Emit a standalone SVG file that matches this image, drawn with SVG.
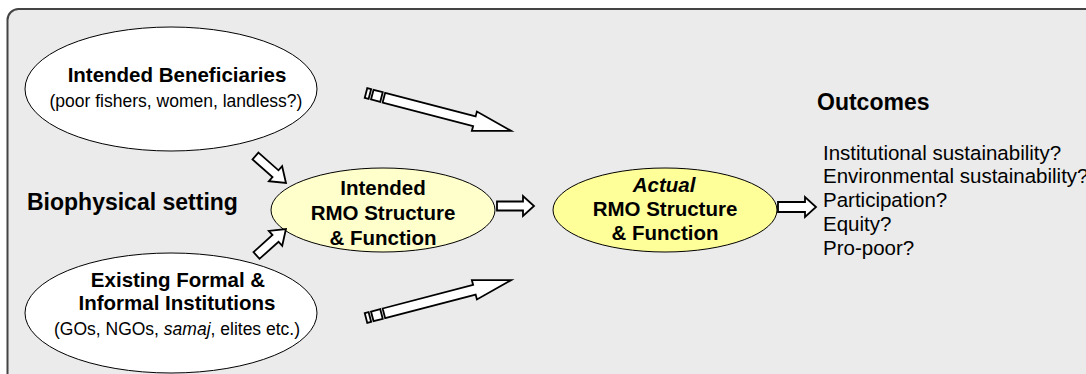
<svg xmlns="http://www.w3.org/2000/svg" width="1086" height="374" viewBox="0 0 1086 374">
<defs>
<style>
.frame{fill:#ebebeb;stroke:#444;stroke-width:2}
.el{stroke:#000;stroke-width:1}
.arr{fill:#fff;stroke:#000;stroke-width:1.8;stroke-linejoin:miter}
text{font-family:"Liberation Sans",Arial,sans-serif;fill:#000}
.b{font-weight:bold;font-size:20.5px}
.h{font-weight:bold;font-size:23px}
.s{font-size:17.5px}
.o{font-size:20.5px}
</style>
</defs>
<rect class="frame" x="7.5" y="9" width="1100" height="400" rx="11"/>
<text class="h" x="27" y="210">Biophysical setting</text>
<text class="h" x="817" y="110">Outcomes</text>
<g id="outcomes">
<text class="o" x="823" y="160">Institutional sustainability?</text>
<text class="o" x="823" y="183">Environmental sustainability?</text>
<text class="o" x="823" y="207">Participation?</text>
<text class="o" x="823" y="231">Equity?</text>
<text class="o" x="823" y="255">Pro-poor?</text>
</g>
<g id="beneficiaries">
<ellipse class="el" cx="171" cy="89" rx="146" ry="62" fill="#fff"/>
<text class="b" x="177" y="82" text-anchor="middle">Intended Beneficiaries</text>
<text class="s" x="176" y="107" text-anchor="middle">(poor fishers, women, landless?)</text>
</g>
<g id="institutions">
<ellipse class="el" cx="171" cy="313" rx="146" ry="60" fill="#fff"/>
<text class="b" x="178" y="287" text-anchor="middle">Existing Formal &amp;</text>
<text class="b" x="177" y="310" text-anchor="middle">Informal Institutions</text>
<text class="s" x="177" y="335" text-anchor="middle">(GOs, NGOs, <tspan font-style="italic">samaj</tspan>, elites etc.)</text>
</g>
<g id="intended">
<ellipse class="el" cx="383" cy="210" rx="112" ry="42" fill="#ffffcc"/>
<text class="b" x="383" y="195" text-anchor="middle">Intended</text>
<text class="b" x="383" y="220" text-anchor="middle">RMO Structure</text>
<text class="b" x="383" y="245" text-anchor="middle">&amp; Function</text>
</g>
<g id="actual">
<ellipse class="el" cx="665" cy="210" rx="112" ry="42" fill="#ffff99"/>
<text class="b" x="664" y="192" text-anchor="middle" font-style="italic">Actual</text>
<text class="b" x="665" y="216" text-anchor="middle">RMO Structure</text>
<text class="b" x="665" y="240" text-anchor="middle">&amp; Function</text>
</g>
<g id="connectors">
<path class="arr" d="M497,201.5 L523,201.5 L523,196 L534,206 L523,216 L523,210.5 L497,210.5 Z"/>
<path class="arr" d="M778,202 L805,202 L805,197 L816,207 L805,217 L805,212 L778,212 Z"/>
<path class="arr" transform="translate(255.5,156) rotate(41.5)" d="M0,-4.5 L26.7,-4.5 L26.7,-10 L40.7,0 L26.7,10 L26.7,4.5 L0,4.5 Z"/>
<path class="arr" transform="translate(256.5,255.5) rotate(-42)" d="M0,-4.5 L25.6,-4.5 L25.6,-10 L39.6,0 L25.6,10 L25.6,4.5 L0,4.5 Z"/>
<g transform="translate(366,93) rotate(14.6)">
<rect class="arr" x="0" y="-5" width="4" height="10"/>
<rect class="arr" x="6.5" y="-5" width="9.5" height="10"/>
<path class="arr" d="M18.5,-5 L112,-5 L112,-10 L150,0 L112,10 L112,5 L18.5,5 Z"/>
</g>
<g transform="translate(366,318) rotate(-14.6)">
<rect class="arr" x="0" y="-5" width="4" height="10"/>
<rect class="arr" x="6.5" y="-5" width="9.5" height="10"/>
<path class="arr" d="M18.5,-5 L112,-5 L112,-10 L150,0 L112,10 L112,5 L18.5,5 Z"/>
</g>
</g>
</svg>
